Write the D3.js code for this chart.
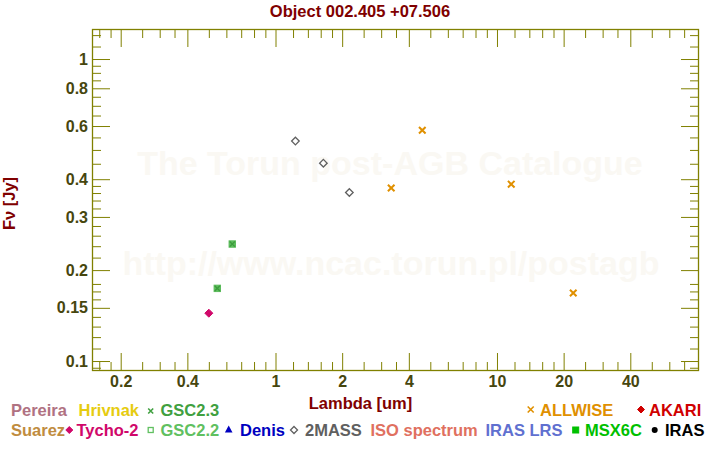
<!DOCTYPE html>
<html>
<head>
<meta charset="utf-8">
<script src="https://cdn.jsdelivr.net/npm/d3@7"></script>
<style>
  html, body { margin: 0; padding: 0; background: #fff; }
  svg { display: block; font-family: "Liberation Sans", Arial, sans-serif; font-weight: bold; }
</style>
</head>
<body>
<svg id="chart" width="720" height="450"></svg>
<script>
// ---------------- data ----------------
const titleText = "Object 002.405 +07.506";
const xLabel = "Lambda [um]";
const yLabel = "Fν [Jy]";

const tychoLambda = [0.50];
const tychoFlux = [0.144];

const gsc23Lambda = [0.546, 0.638];
const gsc23Flux = [0.174, 0.244];

const gsc22Lambda = [0.546, 0.638];
const gsc22Flux = [0.174, 0.244];

const twomassLambda = [1.23, 1.645, 2.155];
const twomassFlux = [0.535, 0.452, 0.3615];

const allwiseLambda = [3.33, 4.60, 11.6, 22.1];
const allwiseFlux = [0.374, 0.581, 0.385, 0.168];

const xMajorTicks = [0.2, 0.4, 1, 2, 4, 10, 20, 40];
const xMajorLabels = ["0.2", "0.4", "1", "2", "4", "10", "20", "40"];
const xMinorTicks = [0.16, 0.18, 0.25, 0.3, 0.35, 0.5, 0.6, 0.7, 0.8, 0.9,
  1.2, 1.4, 1.6, 1.8, 2.5, 3, 3.5, 5, 6, 7, 8, 9, 12, 14, 16, 18, 25, 30, 35, 50, 60, 70];

const yMajorTicks = [0.1, 0.15, 0.2, 0.3, 0.4, 0.6, 0.8, 1];
const yMajorLabels = ["0.1", "0.15", "0.2", "0.3", "0.4", "0.6", "0.8", "1"];
const yMinorTicks = [0.095, 0.11, 0.12, 0.13, 0.14, 0.16, 0.17, 0.18, 0.22, 0.24, 0.26, 0.28,
  0.32, 0.34, 0.36, 0.38, 0.45, 0.5, 0.55, 0.65, 0.7, 0.75, 0.85, 0.9, 0.95, 1.1, 1.2];

const xDomain = [0.1484, 81.7];
const yDomain = [0.09267, 1.2573];

// ---------------- layout ----------------
const svg = d3.select("#chart");
const L = 92, R = 699, T = 29, B = 371;
const x = d3.scaleLog().domain(xDomain).range([L, R]);
const y = d3.scaleLog().domain(yDomain).range([B, T]);

const axisCol = "#808000";
const tickTextCol = "#46460e";
const titleCol = "#800000";

// watermark
const wm = svg.append("g").attr("fill", "#faf8f3").attr("font-size", "34px").attr("text-anchor", "middle");
wm.append("text").attr("x", 390).attr("y", 175).text("The Torun post-AGB Catalogue");
wm.append("text").attr("x", 391).attr("y", 275).text("http://www.ncac.torun.pl/postagb");

// axes
function styleAxis(g) {
  g.select(".domain").remove();
  g.selectAll(".tick line").attr("stroke", axisCol).attr("stroke-width", 1);
  g.selectAll(".tick text").attr("fill", tickTextCol).attr("font-size", "16px")
    .attr("font-family", "Liberation Sans, Arial, sans-serif").attr("font-weight", "bold");
}
const xFmt = d => xMajorLabels[xMajorTicks.indexOf(d)];
const yFmt = d => yMajorLabels[yMajorTicks.indexOf(d)];

svg.append("g").attr("transform", `translate(0,${B})`)
  .call(d3.axisBottom(x).tickValues(xMajorTicks).tickFormat(xFmt).tickSize(-18).tickPadding(5)).call(styleAxis);
svg.append("g").attr("transform", `translate(0,${B})`)
  .call(d3.axisBottom(x).tickValues(xMinorTicks).tickFormat("").tickSize(-9)).call(styleAxis);
svg.append("g").attr("transform", `translate(0,${T})`)
  .call(d3.axisTop(x).tickValues(xMajorTicks).tickFormat("").tickSize(-18)).call(styleAxis);
svg.append("g").attr("transform", `translate(0,${T})`)
  .call(d3.axisTop(x).tickValues(xMinorTicks).tickFormat("").tickSize(-9)).call(styleAxis);

svg.append("g").attr("transform", `translate(${L},0)`)
  .call(d3.axisLeft(y).tickValues(yMajorTicks).tickFormat(yFmt).tickSize(-18).tickPadding(4)).call(styleAxis);
svg.append("g").attr("transform", `translate(${L},0)`)
  .call(d3.axisLeft(y).tickValues(yMinorTicks).tickFormat("").tickSize(-9)).call(styleAxis);
svg.append("g").attr("transform", `translate(${R},0)`)
  .call(d3.axisRight(y).tickValues(yMajorTicks).tickFormat("").tickSize(-18)).call(styleAxis);
svg.append("g").attr("transform", `translate(${R},0)`)
  .call(d3.axisRight(y).tickValues(yMinorTicks).tickFormat("").tickSize(-9)).call(styleAxis);

svg.append("rect").attr("x", L + 0.5).attr("y", T + 0.5).attr("width", R - L - 1).attr("height", B - T - 1)
  .attr("fill", "none").attr("stroke", axisCol).attr("stroke-width", 1.3);

// titles
svg.append("text").attr("x", 360).attr("y", 17).attr("text-anchor", "middle")
  .attr("fill", titleCol).attr("font-size", "16.5px").text(titleText);
svg.append("text").attr("x", 360.5).attr("y", 409).attr("text-anchor", "middle")
  .attr("fill", titleCol).attr("font-size", "16.5px").text(xLabel);
svg.append("text").attr("transform", "translate(15,203.5) rotate(-90)").attr("text-anchor", "middle")
  .attr("fill", titleCol).attr("font-size", "16.5px").text(yLabel);

// marker helpers
function cross(g, cx, cy, r, col, w) {
  g.append("path").attr("d", `M${cx - r},${cy - r}L${cx + r},${cy + r}M${cx - r},${cy + r}L${cx + r},${cy - r}`)
    .attr("stroke", col).attr("stroke-width", w).attr("fill", "none");
}
function diamond(g, cx, cy, r, col, filled) {
  g.append("path").attr("d", `M${cx},${cy - r}L${cx + r},${cy}L${cx},${cy + r}L${cx - r},${cy}Z`)
    .attr("fill", filled ? col : "none").attr("stroke", col).attr("stroke-width", filled ? 1 : 1.3);
}
function square(g, cx, cy, r, col, filled, w) {
  g.append("rect").attr("x", cx - r).attr("y", cy - r).attr("width", 2 * r).attr("height", 2 * r)
    .attr("fill", filled ? col : "#fff").attr("stroke", col).attr("stroke-width", w || 1);
}

// data marks
const pts = svg.append("g");
gsc22Lambda.forEach((l, i) => square(pts, x(l), y(gsc22Flux[i]), 3.2, "#5cbc5c", true, 1));
gsc23Lambda.forEach((l, i) => cross(pts, x(l), y(gsc23Flux[i]), 2.6, "#3c9c3c", 1.3));
tychoLambda.forEach((l, i) => diamond(pts, x(l), y(tychoFlux[i]), 4, "#d0086a", true));
twomassLambda.forEach((l, i) => diamond(pts, x(l), y(twomassFlux[i]), 3.8, "#606060", false));
allwiseLambda.forEach((l, i) => cross(pts, x(l), y(allwiseFlux[i]), 3.3, "#e09000", 2));

// legend
const leg = svg.append("g").attr("font-size", "16.5px");
function legText(tx, ty, txt, col) {
  leg.append("text").attr("x", tx).attr("y", ty).attr("fill", col).text(txt);
}
const r1 = 416, r2 = 436;
legText(11, r1, "Pereira", "#b07282");
legText(78.5, r1, "Hrivnak", "#e6cc10");
cross(leg, 150.7, 411, 2.5, "#40a040", 1.6);
legText(160.5, r1, "GSC2.3", "#40a040");
cross(leg, 530.7, 409.5, 3, "#e09000", 1.6);
legText(540, r1, "ALLWISE", "#e09000");
diamond(leg, 641, 409.5, 3.5, "#d00000", true);
legText(649, r1, "AKARI", "#d00000");

legText(11, r2, "Suarez", "#c08c40");
diamond(leg, 69.3, 430, 3.5, "#d0086a", true);
legText(76.5, r2, "Tycho-2", "#d0086a");
square(leg, 150.7, 430, 2.5, "#60c060", false, 1.3);
legText(160.5, r2, "GSC2.2", "#60c060");
leg.append("path").attr("d", "M228.7,425.5L232.5,432.5L224.9,432.5Z").attr("fill", "#0000c0");
legText(240, r2, "Denis", "#0000c0");
diamond(leg, 294, 430, 3.5, "#606060", false);
legText(305, r2, "2MASS", "#606060");
legText(370.5, r2, "ISO spectrum", "#e07060");
legText(485.5, r2, "IRAS LRS", "#6070d0");
square(leg, 575.7, 430, 3, "#00c000", true, 0);
legText(585, r2, "MSX6C", "#00c000");
leg.append("circle").attr("cx", 654.7).attr("cy", 430).attr("r", 3).attr("fill", "#000");
legText(665, r2, "IRAS", "#000");
</script>
</body>
</html>
